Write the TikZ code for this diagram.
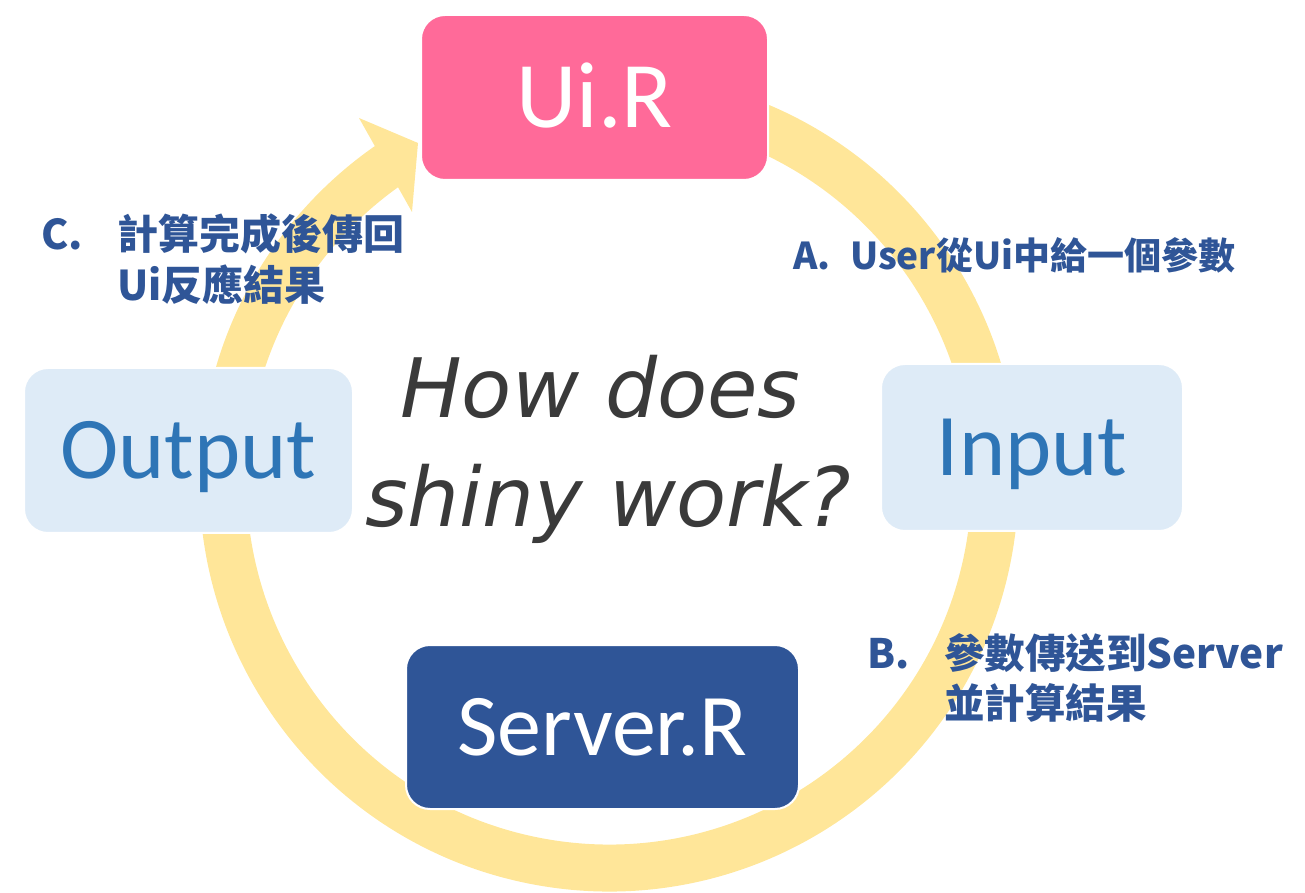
\documentclass[tikz,border=0pt]{standalone}
\usepackage{fontspec}
\setmainfont{Carlito}
\newfontfamily\cjk{Noto Sans CJK TC}
\newfontfamily\handfont{DejaVu Sans Oblique}
\definecolor{ringc}{HTML}{FFE699}
\definecolor{pinkc}{HTML}{FF6A99}
\definecolor{lightc}{HTML}{DEEBF7}
\definecolor{midblue}{HTML}{2E75B6}
\definecolor{darkblue}{HTML}{2F5597}
\definecolor{titlec}{HTML}{3A3A3A}
\begin{document}
\begin{tikzpicture}[x=1pt,y=1pt,
  box/.style={rounded corners=24pt, draw=white, line width=2pt, inner sep=0pt,
    text height=56.7pt, text depth=0pt, font=\fontsize{88}{100}\selectfont},
  lbl/.style={anchor=base west, inner sep=0pt, text=darkblue},
  ttl/.style={anchor=base west, inner sep=0pt, text=titlec,
    font=\handfont\fontsize{82}{100}\selectfont}]
\useasboundingbox (0,0) rectangle (1305,892);
% circular arrow
\coordinate (ctr) at (609,410);
\coordinate (barbA) at (359,774);
\coordinate (tip) at (418,749);
\coordinate (barbB) at (412,680);
\draw[ringc, line width=47pt] ([shift={(ctr)}]80:386) arc[start angle=80, end angle=-235.4, radius=386];
\fill[ringc] (barbA) -- (tip) -- (barbB) -- cycle;
% boxes
\node[box, fill=pinkc, text=white, minimum width=347pt, minimum height=165pt,
  text height=60.5pt, font=\fontsize{94}{100}\selectfont] (ui) at (594.5,794.5) {Ui.R};
\node[box, fill=lightc, text=midblue, minimum width=329pt, minimum height=165pt] (out) at (188.5,441.5) {Output};
\node[box, fill=lightc, text=midblue, minimum width=302pt, minimum height=167pt] (in) at (1032,444.5) {Input};
\node[box, fill=darkblue, text=white, minimum width=393pt, minimum height=164pt] (srv) at (602.5,165) {Server.R};
% title
\node[ttl] (t1) at (400,474) {How does};
\node[ttl] (t2) at (365,365) {shiny work?};
% labels
\node[lbl, font=\cjk\bfseries\fontsize{37}{50}\selectfont] (la) at (793,622)
  {\makebox[57pt][l]{A.}User從Ui中給一個參數};
\node[lbl, font=\cjk\bfseries\fontsize{41}{50}\selectfont] (lc) at (41,642)
  {\begin{tabular}[t]{@{}p{76pt}@{}l@{}}C. & 計算完成後傳回\\ & Ui反應結果\end{tabular}};
\node[lbl, font=\cjk\bfseries\fontsize{40.5}{50}\selectfont] (lb) at (867,224)
  {\begin{tabular}[t]{@{}p{77pt}@{}l@{}}B. & 參數傳送到Server\\ & 並計算結果\end{tabular}};
\end{tikzpicture}
\end{document}
